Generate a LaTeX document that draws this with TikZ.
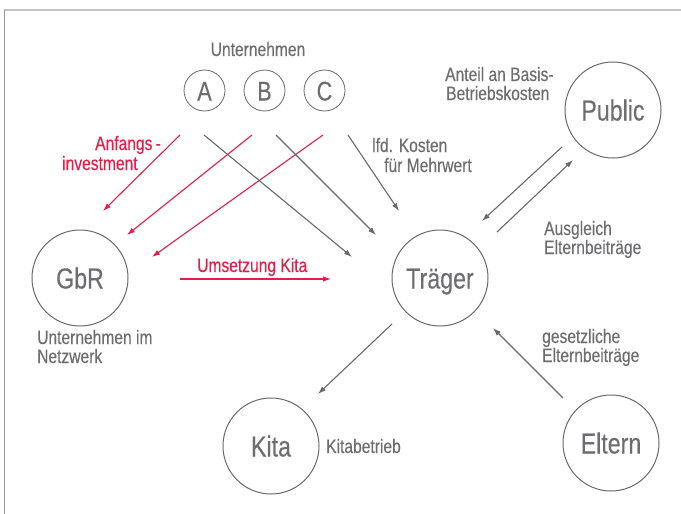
\documentclass[tikz,border=0pt]{standalone}
\usepackage{fontspec}
\setmainfont{Liberation Sans}[FakeStretch=0.8,FakeBold=0.35]
\usetikzlibrary{arrows.meta}
\definecolor{txtgray}{RGB}{109,110,113}
\definecolor{linegray}{RGB}{105,105,108}
\definecolor{hotred}{RGB}{228,30,72}
\definecolor{framegray}{RGB}{195,195,195}
\tikzset{
  bigcircle/.style={circle, draw=linegray, line width=1pt, minimum size=96pt, inner sep=0pt,
    text=txtgray, font=\fontsize{29}{30}\selectfont, text height=21pt, text depth=0pt},
  smallcircle/.style={circle, draw=linegray, line width=0.8pt, minimum size=41pt, inner sep=0pt,
    text=txtgray, font=\fontsize{27}{28}\selectfont, text height=20pt, text depth=0pt},
  lbl/.style={text=txtgray, font=\fontsize{19.5}{20}\selectfont, inner sep=0pt, anchor=base west},
  redlbl/.style={lbl, text=hotred},
  garrow/.style={draw=linegray, line width=1.1pt, -{Latex[length=8pt,width=5.5pt]}},
  rarrow/.style={draw=hotred, line width=1.1pt, -{Latex[length=8pt,width=5.5pt]}},
}
\begin{document}
\begin{tikzpicture}[x=1pt,y=-1pt]
\useasboundingbox (0,0) rectangle (681,514);
% frame
\draw[framegray, line width=2pt] (4,9.5) -- (681,9.5);
\draw[color=gray!80, line width=0.8pt] (4,9.5) -- (4,514);

% circles
\node[smallcircle] (A) at (204.5,90.5) {A};
\node[smallcircle] (B) at (264.5,90.5) {B};
\node[smallcircle] (C) at (324.5,90.5) {C};
\node[bigcircle] (pub) at (613,110) {Public};
\node[bigcircle] (gbr) at (80,278) {GbR};
\node[bigcircle] (tra) at (440,278) {Träger};
\node[bigcircle] (kita) at (271,446) {Kita};
\node[bigcircle] (elt) at (611,443) {Eltern};

% labels
\node[lbl, anchor=base] (unt) at (258,56) {Unternehmen};
\node[lbl] (ant1) at (445,81) {Anteil an Basis-};
\node[lbl] (ant2) at (446,100) {Betriebskosten};
\node[lbl] (lfd1) at (372,152) {lfd. Kosten};
\node[lbl] (lfd2) at (384,172) {für Mehrwert};
\node[lbl] (aus1) at (544,235) {Ausgleich};
\node[lbl] (aus2) at (544,254) {Elternbeiträge};
\node[redlbl] (anf1) at (95,150) {Anfangs\,-};
\node[redlbl] (anf2) at (62,170) {investment};
\node[redlbl] (ums) at (197,272) {Umsetzung Kita};
\node[lbl] (net1) at (37,344) {Unternehmen im};
\node[lbl] (net2) at (37,363) {Netzwerk};
\node[lbl] (ges1) at (542,343) {gesetzliche};
\node[lbl] (ges2) at (542,362) {Elternbeiträge};
\node[lbl] (kb) at (326,453) {Kitabetrieb};

% arrow end points
\coordinate (r1s) at (180,135); \coordinate (r1e) at (103,211);
\coordinate (r2s) at (252,135); \coordinate (r2e) at (127,235);
\coordinate (r3s) at (323,135); \coordinate (r3e) at (152,257);
\coordinate (g1s) at (204,135); \coordinate (g1e) at (352,257);
\coordinate (g2s) at (276,135); \coordinate (g2e) at (376,235);
\coordinate (g3s) at (348,135); \coordinate (g3e) at (399,211);
\coordinate (p1s) at (562,147); \coordinate (p1e) at (482,221);
\coordinate (p2s) at (497,232); \coordinate (p2e) at (573,160);
\coordinate (k1s) at (392,324); \coordinate (k1e) at (318,394);
\coordinate (e1s) at (563,398); \coordinate (e1e) at (493,328);
\coordinate (u1s) at (180,279); \coordinate (u1e) at (331,279);

% arrows
\draw[rarrow] (r1s) -- (r1e);
\draw[rarrow] (r2s) -- (r2e);
\draw[rarrow] (r3s) -- (r3e);
\draw[garrow] (g1s) -- (g1e);
\draw[garrow] (g2s) -- (g2e);
\draw[garrow] (g3s) -- (g3e);
\draw[garrow] (p1s) -- (p1e);
\draw[garrow] (p2s) -- (p2e);
\draw[garrow] (k1s) -- (k1e);
\draw[garrow] (e1s) -- (e1e);
\draw[rarrow] (u1s) -- (u1e);
\end{tikzpicture}
\end{document}
